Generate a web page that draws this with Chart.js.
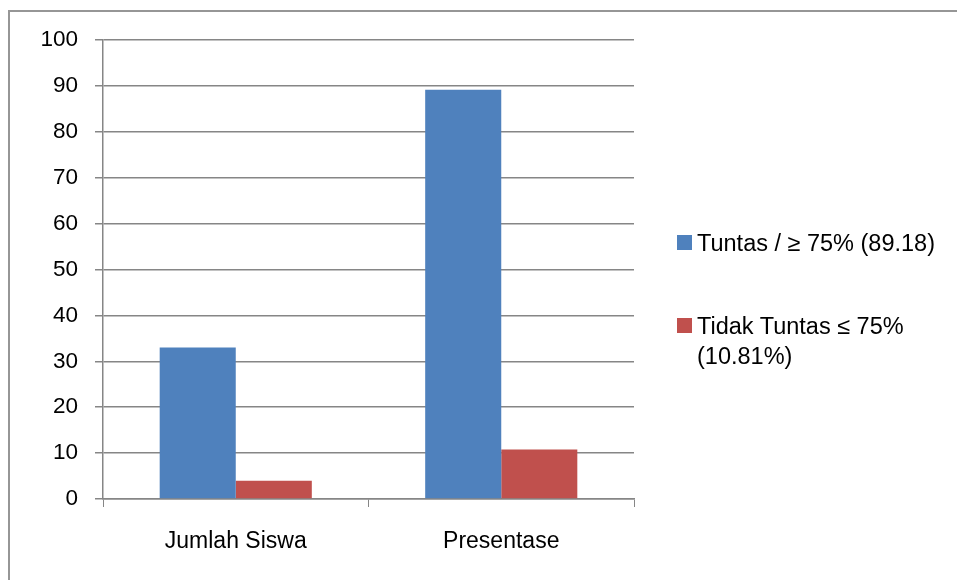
<!DOCTYPE html>
<html>
<head>
<meta charset="utf-8">
<script src="https://cdn.jsdelivr.net/npm/chart.js@4.4.1/dist/chart.umd.min.js"></script>
<style>
  html, body { margin: 0; padding: 0; background: #fff; }
  #wrap { position: relative; width: 957px; height: 580px; overflow: hidden; }
  #frame { position: absolute; left: 8px; top: 10px; width: 960px; height: 600px;
           border-left: 2px solid #969696; border-top: 2px solid #969696; }
  #chart { position: absolute; left: 0; top: 0; }
  #legend { position: absolute; left: 677px; top: 228px; width: 278px;
            font-family: "Liberation Sans", Arial, sans-serif; font-size: 23.5px; color: #000; }
  .item { position: relative; padding-left: 20px; line-height: 30px; margin-bottom: 53px; }
  .box { position: absolute; left: 0; top: 7px; width: 15px; height: 15px; }
</style>
</head>
<body>
<div id="wrap">
  <div id="frame"></div>
  <canvas id="chart" width="957" height="580"></canvas>
  <div id="legend"></div>
</div>
<script>
// Datos del gráfico
const categories = ['Jumlah Siswa', 'Presentase'];
const seriesNames = ['Tuntas / \u2265 75% (89.18)', 'Tidak Tuntas \u2264 75% (10.81%)'];
const tuntas = [33, 89.18];
const tidakTuntas = [4, 10.81];
const yTicks = [0, 10, 20, 30, 40, 50, 60, 70, 80, 90, 100];

const colors = {
    blue: '#4F81BD',
    red: '#C0504D',
    grid: '#868686'
};

const fontFamily = '"Liberation Sans", Arial, sans-serif';

function initChart() {
    const ctx = document.getElementById('chart');

    const chart = new Chart(ctx, {
        type: 'bar',
        data: {
            labels: categories,
            datasets: [{
                label: seriesNames[0],
                data: tuntas,
                backgroundColor: colors.blue
            }, {
                label: seriesNames[1],
                data: tidakTuntas,
                backgroundColor: colors.red
            }]
        },
        options: {
            responsive: false,
            animation: false,
            layout: {
                padding: { left: 0, top: 40, right: 323, bottom: 0 }
            },
            datasets: {
                bar: {
                    categoryPercentage: 0.573,
                    barPercentage: 1
                }
            },
            plugins: {
                legend: { display: false },
                tooltip: { enabled: false }
            },
            scales: {
                x: {
                    afterFit: function(scale) { scale.height = 81; },
                    grid: {
                        offset: true,
                        drawOnChartArea: false,
                        drawTicks: true,
                        tickLength: 8,
                        color: colors.grid
                    },
                    border: { color: colors.grid, width: 1.5 },
                    ticks: {
                        color: '#000',
                        padding: 21,
                        font: { family: fontFamily, size: 23 }
                    }
                },
                y: {
                    min: 0,
                    max: 100,
                    afterFit: function(scale) { scale.width = 103; },
                    afterBuildTicks: function(scale) {
                        scale.ticks = yTicks.map(v => ({ value: v }));
                    },
                    grid: {
                        color: colors.grid,
                        lineWidth: 1.5,
                        tickLength: 8
                    },
                    border: { color: colors.grid, width: 1.5 },
                    ticks: {
                        color: '#000',
                        padding: 17,
                        font: { family: fontFamily, size: 22.5 }
                    }
                }
            }
        }
    });

    // Leyenda en HTML para permitir el salto de línea
    const legend = document.getElementById('legend');
    chart.data.datasets.forEach(ds => {
        const item = document.createElement('div');
        item.className = 'item';
        const box = document.createElement('span');
        box.className = 'box';
        box.style.background = ds.backgroundColor;
        item.appendChild(box);
        item.appendChild(document.createTextNode(ds.label));
        legend.appendChild(item);
    });
}

initChart();
</script>
</body>
</html>
